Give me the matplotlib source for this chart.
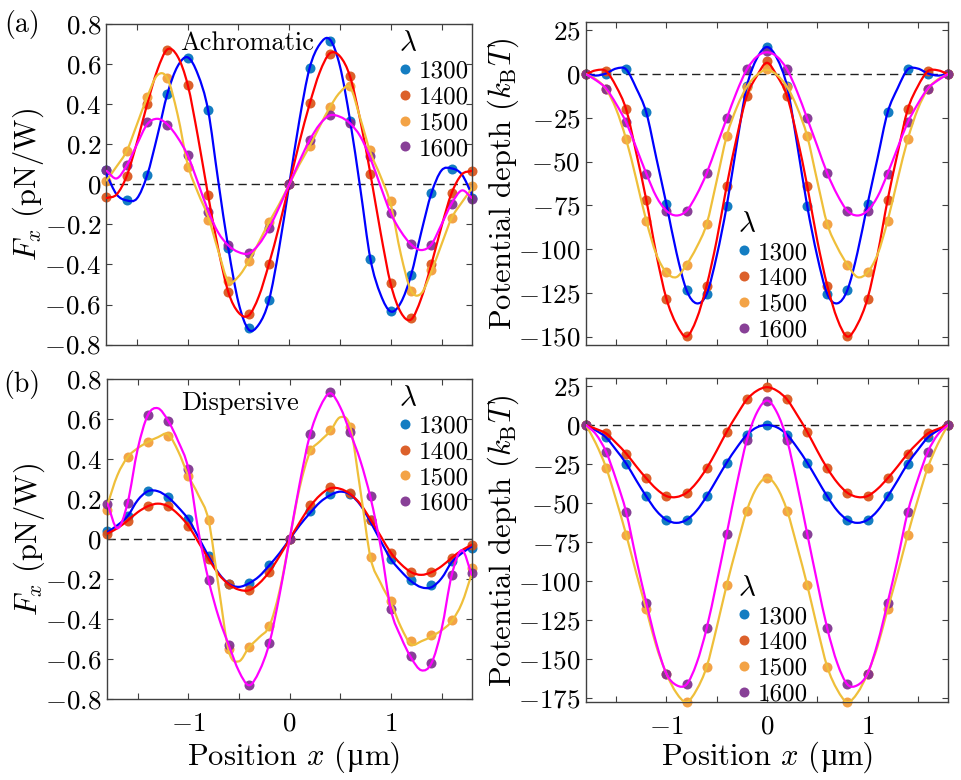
import numpy as np
import matplotlib
matplotlib.use("Agg")
import matplotlib.pyplot as plt
from matplotlib.path import Path
from matplotlib.patches import PathPatch
from matplotlib.ticker import FixedLocator, FuncFormatter

plt.rcParams['font.family'] = ['cmr10', 'DejaVu Serif']
plt.rcParams['mathtext.fontset'] = 'cm'
plt.rcParams['axes.unicode_minus'] = False
plt.rcParams['axes.formatter.use_mathtext'] = True

# ---- data -----------------------------------------------------------------
wavelengths = ['1300', '1400', '1500', '1600']
x_dots = np.linspace(-1.8, 1.8, 19)   # simulated points, 0.2 um step
x_fit = np.linspace(-1.8, 1.8, 37)    # fitted curves, 0.1 um step

# (a) achromatic, force
fa_dots_1300 = [0.07, -0.078, 0.045, 0.453, 0.632, 0.373, -0.318, -0.718, -0.58, 0,
                0.58, 0.718, 0.318, -0.373, -0.632, -0.453, -0.045, 0.078, -0.07]
fa_dots_1400 = [-0.065, 0.043, 0.40, 0.67, 0.498, -0.052, -0.538, -0.647, -0.398, 0,
                0.407, 0.652, 0.543, 0.053, -0.493, -0.668, -0.398, -0.043, 0.068]
fa_dots_1500 = [0.015, 0.168, 0.435, 0.532, 0.087, -0.177, -0.485, -0.385, -0.188, 0,
                0.193, 0.385, 0.49, 0.173, -0.085, -0.532, -0.43, -0.168, -0.01]
fa_dots_1600 = [0.073, 0.098, 0.31, 0.298, 0.145, -0.14, -0.302, -0.343, -0.218, 0,
                0.223, 0.348, 0.307, 0.14, -0.143, -0.298, -0.302, -0.097, -0.073]

fa_fit_1300 = [0.05, -0.05, -0.08, -0.07, 0.045, 0.24, 0.453, 0.59, 0.635, 0.55, 0.373, 0.02,
               -0.318, -0.59, -0.725, -0.70, -0.58, -0.32, 0,
               0.32, 0.58, 0.70, 0.725, 0.59, 0.318, -0.02, -0.373, -0.55, -0.635, -0.59,
               -0.453, -0.24, -0.045, 0.07, 0.08, 0.05, -0.05]
fa_fit_1400 = [-0.068, -0.05, 0.043, 0.21, 0.40, 0.57, 0.675, 0.64, 0.498, 0.24, -0.052, -0.32,
               -0.538, -0.64, -0.655, -0.56, -0.398, -0.21, 0,
               0.21, 0.40, 0.56, 0.655, 0.64, 0.538, 0.32, 0.052, -0.24, -0.498, -0.64,
               -0.675, -0.57, -0.40, -0.21, -0.043, 0.05, 0.068]
fa_fit_1500 = [0.02, 0.09, 0.168, 0.30, 0.435, 0.545, 0.53, 0.35, 0.10, -0.04, -0.16, -0.33,
               -0.485, -0.46, -0.385, -0.29, -0.19, -0.10, 0,
               0.10, 0.19, 0.29, 0.385, 0.46, 0.485, 0.33, 0.16, 0.04, -0.10, -0.35,
               -0.53, -0.545, -0.435, -0.30, -0.168, -0.09, -0.02]
fa_fit_1600 = [0.068, 0.03, 0.095, 0.20, 0.30, 0.328, 0.30, 0.235, 0.145, 0.01, -0.13, -0.24,
               -0.305, -0.338, -0.345, -0.30, -0.22, -0.115, 0,
               0.115, 0.22, 0.30, 0.345, 0.338, 0.305, 0.24, 0.13, -0.01, -0.145, -0.235,
               -0.30, -0.328, -0.30, -0.20, -0.095, -0.03, -0.068]

# (a) achromatic, potential
ua_dots_1300 = [0, 0, 2.7, -21.9, -74.3, -123.4, -125.7, -75.3, -7, 15.6,
                -7, -75.3, -125.7, -123.4, -74.3, -21.9, 2.7, 0, 0]
ua_dots_1400 = [0, 1.7, -20.2, -71.9, -128.3, -149.8, -120.9, -63.7, -12.5, 7.4,
                -12.5, -63.7, -120.9, -149.8, -128.3, -71.9, -20.2, 1.7, 0]
ua_dots_1500 = [0, -8.5, -37.3, -83.8, -113.3, -108.9, -85.7, -35.4, -7.2, 2.7,
                -7.2, -35.4, -85.7, -108.9, -113.3, -83.8, -37.3, -8.5, 0]
ua_dots_1600 = [0, -8.2, -27.6, -56.8, -78.1, -78.1, -56.7, -25.3, 2.7, 13.1,
                2.7, -25.3, -56.7, -78.1, -78.1, -56.8, -27.6, -8.2, 0]

ua_fit_1300 = [0, -0.8, 0.4, 3.2, 2.7, -8, -21.9, -48, -74.3, -102, -123.4, -131, -125.7,
               -104, -75.3, -40, -7, 9, 15.5,
               9, -7, -40, -75.3, -104, -125.7, -131, -123.4, -102, -74.3, -48, -21.9,
               -8, 2.7, 3.2, 0.4, -0.8, 0]
ua_fit_1400 = [0, 2.2, 1.7, -7, -20.2, -45, -71.9, -103, -128.3, -143, -150, -140, -120.9,
               -95, -63.7, -36, -12.5, -1, 6.5,
               -1, -12.5, -36, -63.7, -95, -120.9, -140, -150, -143, -128.3, -103, -71.9,
               -45, -20.2, -7, 1.7, 2.2, 0]
ua_fit_1500 = [0, -3, -8.5, -20, -37.3, -60, -83.8, -103, -113.3, -116, -108.9, -99, -85.7,
               -61, -35.4, -19, -7.2, -0.5, 2.5,
               -0.5, -7.2, -19, -35.4, -61, -85.7, -99, -108.9, -116, -113.3, -103, -83.8,
               -60, -37.3, -20, -8.5, -3, 0]
ua_fit_1600 = [0, -3.5, -8.2, -17, -27.6, -42, -56.8, -70, -78.1, -80.8, -78.1, -69, -56.7,
               -41, -25.3, -10, 2.7, 10, 12.5,
               10, 2.7, -10, -25.3, -41, -56.7, -69, -78.1, -80.8, -78.1, -70, -56.8,
               -42, -27.6, -17, -8.2, -3.5, 0]

# (b) dispersive, force
fb_dots_1300 = [0.043, 0.115, 0.24, 0.21, 0.10, -0.085, -0.223, -0.218, -0.13, 0,
                0.14, 0.226, 0.226, 0.098, -0.097, -0.205, -0.231, -0.11, -0.043]
fb_dots_1400 = [0.028, 0.093, 0.165, 0.165, 0.068, -0.098, -0.226, -0.255, -0.163, 0,
                0.17, 0.262, 0.23, 0.098, -0.068, -0.165, -0.165, -0.093, -0.028]
fb_dots_1500 = [0.148, 0.41, 0.486, 0.516, 0.318, 0.095, -0.55, -0.54, -0.434, 0,
                0.444, 0.547, 0.56, -0.09, -0.31, -0.51, -0.48, -0.406, -0.146]
fb_dots_1600 = [0.178, 0.181, 0.62, 0.593, 0.353, -0.205, -0.53, -0.73, -0.52, 0,
                0.526, 0.735, 0.534, 0.215, -0.348, -0.584, -0.617, -0.18, -0.168]

fb_fit_1300 = [0.035, 0.07, 0.115, 0.195, 0.24, 0.24, 0.21, 0.16, 0.10, 0.01, -0.085, -0.17,
               -0.223, -0.238, -0.22, -0.185, -0.13, -0.07, 0,
               0.07, 0.13, 0.185, 0.22, 0.238, 0.223, 0.17, 0.085, -0.01, -0.10, -0.16,
               -0.21, -0.24, -0.24, -0.195, -0.115, -0.07, -0.035]
fb_fit_1400 = [0.028, 0.055, 0.093, 0.135, 0.165, 0.178, 0.165, 0.125, 0.068, -0.015, -0.098,
               -0.175, -0.226, -0.252, -0.255, -0.22, -0.163, -0.085, 0,
               0.085, 0.163, 0.22, 0.255, 0.252, 0.226, 0.175, 0.098, 0.015, -0.068, -0.125,
               -0.165, -0.178, -0.165, -0.135, -0.093, -0.055, -0.028]
fb_fit_1500 = [0.17, 0.32, 0.41, 0.455, 0.486, 0.51, 0.525, 0.44, 0.318, 0.22, 0.095, -0.24,
               -0.56, -0.61, -0.54, -0.49, -0.434, -0.26, 0,
               0.26, 0.434, 0.49, 0.54, 0.61, 0.56, 0.24, -0.095, -0.22, -0.318, -0.44,
               -0.525, -0.51, -0.486, -0.455, -0.41, -0.32, -0.17]
fb_fit_1600 = [0.18, 0.055, 0.18, 0.45, 0.62, 0.655, 0.593, 0.49, 0.353, 0.04, -0.205, -0.39,
               -0.53, -0.66, -0.73, -0.66, -0.52, -0.28, 0,
               0.28, 0.52, 0.66, 0.73, 0.66, 0.53, 0.39, 0.205, -0.04, -0.353, -0.49,
               -0.593, -0.655, -0.62, -0.45, -0.18, -0.055, -0.18]

# (b) dispersive, potential
ub_dots_1300 = [0, -8.0, -24.7, -45.8, -60.9, -60.9, -45.8, -24.1, -6.2, 0,
                -6.2, -24.1, -45.8, -60.9, -60.9, -45.8, -24.7, -8.0, 0]
ub_dots_1400 = [0, -5.4, -18.3, -34.2, -45.6, -43.5, -27.8, -4.3, 16.4, 24.3,
                16.4, -4.3, -27.8, -43.5, -45.6, -34.2, -18.3, -5.4, 0]
ub_dots_1500 = [0, -27.3, -70.4, -118.3, -159.6, -177.9, -155.3, -102.6, -54.9, -33.8,
                -54.9, -102.6, -155.3, -177.9, -159.6, -118.3, -70.4, -27.3, 0]
ub_dots_1600 = [0, -17.2, -55.9, -114, -159.6, -166.5, -130.6, -69.7, -9.7, 15.7,
                -9.7, -69.7, -130.6, -166.5, -159.6, -114, -55.9, -17.2, 0]

ub_fit_1300 = [0, -3.5, -8, -16, -24.7, -35.5, -45.8, -55, -60.9, -62.8, -60.9, -55, -45.8,
               -35, -24.1, -14.5, -6.2, -1.5, 0,
               -1.5, -6.2, -14.5, -24.1, -35, -45.8, -55, -60.9, -62.8, -60.9, -55, -45.8,
               -35.5, -24.7, -16, -8, -3.5, 0]
ub_fit_1400 = [0, -2.5, -5.4, -11.5, -18.3, -26.5, -34.2, -41, -45.6, -46.2, -43.5, -37, -27.8,
               -16.5, -4.3, 6.5, 16.4, 22, 24.3,
               22, 16.4, 6.5, -4.3, -16.5, -27.8, -37, -43.5, -46.2, -45.6, -41, -34.2,
               -26.5, -18.3, -11.5, -5.4, -2.5, 0]
ub_fit_1500 = [0, -12, -27.3, -48, -70.4, -95, -118.3, -142, -159.6, -172, -177.9, -170, -155.3,
               -130, -102.6, -78, -54.9, -40, -33.8,
               -40, -54.9, -78, -102.6, -130, -155.3, -170, -177.9, -172, -159.6, -142, -118.3,
               -95, -70.4, -48, -27.3, -12, 0]
ub_fit_1600 = [0, -6, -17.2, -35, -55.9, -86, -114, -140, -159.6, -167, -166.5, -153, -130.6,
               -101, -69.7, -38, -9.7, 8, 15.7,
               8, -9.7, -38, -69.7, -101, -130.6, -153, -166.5, -167, -159.6, -140, -114,
               -86, -55.9, -35, -17.2, -6, 0]

# ---- style ----------------------------------------------------------------
dot_colors = ['#0072BD', '#D95319', '#F39B36', '#7E2F8E']
line_colors = ['#0000FF', '#FF0000', '#EFBF3A', '#FF00FF']
frame_color = '#404040'

fig = plt.figure(figsize=(9.62, 7.8), dpi=100)

# axes rectangles (figure fraction)
ax_tl = fig.add_axes([0.1107, 0.5583, 0.3799, 0.4105])
ax_tr = fig.add_axes([0.6091, 0.5573, 0.3763, 0.4149])
ax_bl = fig.add_axes([0.1115, 0.1035, 0.3791, 0.4103])
ax_br = fig.add_axes([0.6091, 0.0996, 0.3763, 0.4154])


def fmt(v, pos):
    if abs(v) < 1e-9:
        return '$0$'
    return '$%g$' % round(v, 2)


def curve_path(x, y):
    # bezier path through the fitted values (smooth drawing of the fit line)
    pts = np.column_stack([np.asarray(x, float), np.asarray(y, float)])
    tang = np.gradient(pts, axis=0)
    verts = [pts[0]]
    codes = [Path.MOVETO]
    for i in range(len(pts) - 1):
        verts += [pts[i] + tang[i] / 3, pts[i + 1] - tang[i + 1] / 3, pts[i + 1]]
        codes += [Path.CURVE4] * 3
    return Path(verts, codes)


def draw_panel(ax, dots, fits, ylim, yticks, legend_xy, show_x):
    ax.axhline(0, color='#222222', lw=1.0, dashes=(6, 3.5), zorder=1)
    handles = []
    for d, c in zip(dots, dot_colors):
        h, = ax.plot(x_dots, d, 'o', ms=7.2, color=c, mec='none', alpha=0.92,
                     clip_on=False, zorder=2)
        handles.append(h)
    for f, c in zip(fits, line_colors):
        ax.add_patch(PathPatch(curve_path(x_fit, f), fill=False, edgecolor=c,
                               lw=1.6, zorder=3, capstyle='round'))

    ax.set_xlim(-1.8, 1.8)
    ax.set_ylim(*ylim)
    ax.xaxis.set_major_locator(FixedLocator([-1, 0, 1]))
    ax.xaxis.set_minor_locator(FixedLocator([-1.5, -0.5, 0.5, 1.5]))
    ax.yaxis.set_major_locator(FixedLocator(yticks))
    ax.yaxis.set_major_formatter(FuncFormatter(fmt))
    ax.xaxis.set_major_formatter(FuncFormatter(fmt))
    ax.tick_params(which='both', direction='in', top=True, right=True,
                   length=4, width=0.8, color=frame_color, labelsize=19.5)
    ax.tick_params(axis='y', pad=4)
    ax.tick_params(axis='x', pad=9)
    if not show_x:
        ax.tick_params(axis='x', labelbottom=False)
    for s in ax.spines.values():
        s.set_color(frame_color)
        s.set_linewidth(1.0)

    leg = ax.legend(handles, wavelengths, title=r'$\lambda$', loc='upper left',
                    bbox_to_anchor=legend_xy, frameon=False, fontsize=18,
                    title_fontsize=21, handlelength=0.5, handletextpad=0.3,
                    labelspacing=0.13, borderpad=0, borderaxespad=0,
                    alignment='left')
    leg.set_zorder(5)
    return ax


force_ticks = [-0.8, -0.6, -0.4, -0.2, 0, 0.2, 0.4, 0.6, 0.8]

draw_panel(ax_tl, [fa_dots_1300, fa_dots_1400, fa_dots_1500, fa_dots_1600],
           [fa_fit_1300, fa_fit_1400, fa_fit_1500, fa_fit_1600],
           (-0.8, 0.8), force_ticks, (0.80, 0.98), False)
draw_panel(ax_tr, [ua_dots_1300, ua_dots_1400, ua_dots_1500, ua_dots_1600],
           [ua_fit_1300, ua_fit_1400, ua_fit_1500, ua_fit_1600],
           (-155, 30), [25, 0, -25, -50, -75, -100, -125, -150], (0.42, 0.412), False)
draw_panel(ax_bl, [fb_dots_1300, fb_dots_1400, fb_dots_1500, fb_dots_1600],
           [fb_fit_1300, fb_fit_1400, fb_fit_1500, fb_fit_1600],
           (-0.8, 0.8), force_ticks, (0.80, 0.98), True)
draw_panel(ax_br, [ub_dots_1300, ub_dots_1400, ub_dots_1500, ub_dots_1600],
           [ub_fit_1300, ub_fit_1400, ub_fit_1500, ub_fit_1600],
           (-178, 30), [25, 0, -25, -50, -75, -100, -125, -150, -175], (0.42, 0.39), True)

# y labels
for ax in (ax_tl, ax_bl):
    ax.set_ylabel(r'$F_x$ (pN/W)', fontsize=22)
    ax.yaxis.set_label_coords(-0.165, 0.5)
for ax in (ax_tr, ax_br):
    ax.set_ylabel(r'Potential depth ($k_\mathrm{B}T$)', fontsize=22)
    ax.yaxis.set_label_coords(-0.18, 0.5)

# x labels: the micro sign comes from a font that has it
renderer = fig.canvas.get_renderer()
xlabel_parts = [('Position $x$ (', ['cmr10']), ('µ', ['Liberation Serif']), ('m)', ['cmr10'])]
for cx in (294, 767.5):
    texts = [fig.text(0, 0.019, s, fontsize=22, family=fam, ha='left', va='baseline')
             for s, fam in xlabel_parts]
    widths = [t.get_window_extent(renderer).width for t in texts]
    x0 = cx - sum(widths) / 2
    for t, w in zip(texts, widths):
        t.set_x(x0 / 962)
        x0 += w

ax_tl.text(0.385, 0.94, 'Achromatic', transform=ax_tl.transAxes, ha='center',
           va='center', fontsize=19)
ax_bl.text(0.363, 0.925, 'Dispersive', transform=ax_bl.transAxes, ha='center',
           va='center', fontsize=19)

fig.text(0.023, 0.968, '(a)', ha='center', va='center', fontsize=20)
fig.text(0.023, 0.507, '(b)', ha='center', va='center', fontsize=20)

fig.savefig('out.png', dpi=100)
